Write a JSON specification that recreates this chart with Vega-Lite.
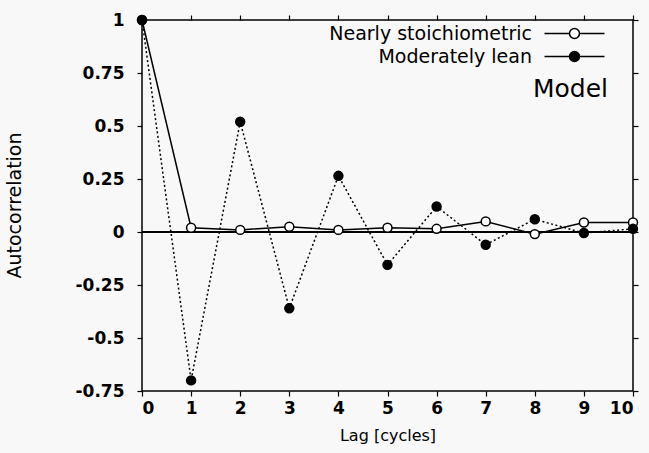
{
  "$schema": "https://vega.github.io/schema/vega-lite/v6.json",
  "width": 491,
  "height": 371,
  "autosize": {"type": "none"},
  "padding": {"left": 142, "top": 20, "right": 16, "bottom": 62},
  "background": "#f8f8f8",
  "config": {
    "view": {"stroke": "black", "strokeWidth": 1.5},
    "font": "DejaVu Sans",
    "axis": {
      "domain": false,
      "grid": false,
      "tickColor": "black",
      "tickWidth": 1.2,
      "tickSize": 5,
      "labelColor": "black",
      "labelFont": "DejaVu Sans",
      "labelFontSize": 17,
      "labelFontWeight": "bold",
      "titleColor": "black",
      "titleFont": "DejaVu Sans",
      "titleFontSize": 16,
      "titleFontWeight": "normal"
    }
  },
  "datasets": {
    "acf": [
      {"lag": 0, "series": "Nearly stoichiometric", "r": 1},
      {"lag": 1, "series": "Nearly stoichiometric", "r": 0.02},
      {"lag": 2, "series": "Nearly stoichiometric", "r": 0.01},
      {"lag": 3, "series": "Nearly stoichiometric", "r": 0.025},
      {"lag": 4, "series": "Nearly stoichiometric", "r": 0.01},
      {"lag": 5, "series": "Nearly stoichiometric", "r": 0.02},
      {"lag": 6, "series": "Nearly stoichiometric", "r": 0.015},
      {"lag": 7, "series": "Nearly stoichiometric", "r": 0.05},
      {"lag": 8, "series": "Nearly stoichiometric", "r": -0.01},
      {"lag": 9, "series": "Nearly stoichiometric", "r": 0.045},
      {"lag": 10, "series": "Nearly stoichiometric", "r": 0.045},
      {"lag": 0, "series": "Moderately lean", "r": 1},
      {"lag": 1, "series": "Moderately lean", "r": -0.7},
      {"lag": 2, "series": "Moderately lean", "r": 0.52},
      {"lag": 3, "series": "Moderately lean", "r": -0.36},
      {"lag": 4, "series": "Moderately lean", "r": 0.265},
      {"lag": 5, "series": "Moderately lean", "r": -0.155},
      {"lag": 6, "series": "Moderately lean", "r": 0.12},
      {"lag": 7, "series": "Moderately lean", "r": -0.06},
      {"lag": 8, "series": "Moderately lean", "r": 0.06},
      {"lag": 9, "series": "Moderately lean", "r": -0.005},
      {"lag": 10, "series": "Moderately lean", "r": 0.015}
    ]
  },
  "data": {"name": "acf"},
  "resolve": {"axis": {"x": "independent", "y": "independent"}},
  "layer": [
    {
      "transform": [{"filter": "datum.series === 'Nearly stoichiometric'"}],
      "mark": {"type": "line", "color": "black", "strokeWidth": 1.5},
      "encoding": {
        "x": {
          "field": "lag",
          "type": "quantitative",
          "scale": {"domain": [0, 10], "nice": false},
          "axis": {
            "orient": "bottom",
            "values": [0, 1, 2, 3, 4, 5, 6, 7, 8, 9, 10],
            "format": "d",
            "labelPadding": 4,
            "title": "Lag [cycles]",
            "titlePadding": 11
          }
        },
        "y": {
          "field": "r",
          "type": "quantitative",
          "scale": {"domain": [-0.75, 1], "nice": false, "zero": false},
          "axis": {
            "orient": "left",
            "values": [-0.75, -0.5, -0.25, 0, 0.25, 0.5, 0.75, 1],
            "labelExpr": "datum.value + ''",
            "labelPadding": 13,
            "title": "Autocorrelation",
            "titleFontSize": 19,
            "titleX": -118,
            "titleY": 185
          }
        }
      }
    },
    {
      "transform": [{"filter": "datum.series === 'Moderately lean'"}],
      "mark": {"type": "line", "color": "black", "strokeWidth": 1.5, "strokeDash": [2, 2.5]},
      "encoding": {
        "x": {"field": "lag", "type": "quantitative", "axis": null},
        "y": {"field": "r", "type": "quantitative", "axis": null}
      }
    },
    {
      "mark": {"type": "rule", "color": "black", "strokeWidth": 1.2},
      "encoding": {"y": {"datum": 0, "type": "quantitative", "axis": null}}
    },
    {
      "mark": {
        "type": "point",
        "shape": "circle",
        "filled": true,
        "stroke": "black",
        "strokeWidth": 1.5,
        "size": 80,
        "opacity": 1
      },
      "encoding": {
        "x": {
          "field": "lag",
          "type": "quantitative",
          "axis": {
            "orient": "top",
            "values": [0, 1, 2, 3, 4, 5, 6, 7, 8, 9, 10],
            "labels": false,
            "title": null
          }
        },
        "y": {
          "field": "r",
          "type": "quantitative",
          "axis": {
            "orient": "right",
            "values": [-0.75, -0.5, -0.25, 0, 0.25, 0.5, 0.75, 1],
            "labels": false,
            "title": null
          }
        },
        "fill": {
          "field": "series",
          "type": "nominal",
          "scale": {
            "domain": ["Nearly stoichiometric", "Moderately lean"],
            "range": ["white", "black"]
          },
          "legend": {
            "orient": "none",
            "legendX": 391,
            "legendY": 4,
            "padding": 0,
            "title": "Model",
            "titleOrient": "bottom",
            "titleAnchor": "end",
            "titleFont": "DejaVu Sans",
            "titleFontSize": 25,
            "titleFontWeight": "normal",
            "titleColor": "black",
            "titlePadding": 10,
            "symbolType": "M-5,0H-0.83M0.83,0H5M0.83,0A0.83,0.83 0 1 1 -0.83,0A0.83,0.83 0 1 1 0.83,0",
            "symbolSize": 144,
            "symbolOffset": 13,
            "symbolStrokeColor": "black",
            "symbolStrokeWidth": 1.5,
            "labelAlign": "right",
            "labelOffset": -52,
            "labelFont": "DejaVu Sans",
            "labelFontSize": 19,
            "labelColor": "black",
            "labelLimit": 400,
            "rowPadding": 3,
            "encode": {
              "symbols": {
                "update": {
                  "strokeDash": [
                    {"test": "datum.value === 'Moderately lean'", "value": [2, 2]},
                    {"value": [1, 0]}
                  ]
                }
              },
              "labels": {
                "update": {
                  "fontStyle": [
                    {"test": "datum.value === 'Nearly stoichiometric'", "value": "italic"},
                    {"value": "normal"}
                  ]
                }
              }
            }
          }
        }
      }
    }
  ]
}
